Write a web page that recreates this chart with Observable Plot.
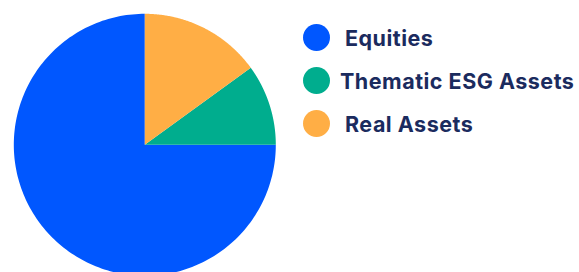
<!DOCTYPE html>
<html>
<head>
<meta charset="utf-8">
<script src="https://cdn.jsdelivr.net/npm/d3@7"></script>
<script src="https://cdn.jsdelivr.net/npm/@observablehq/plot@0.6"></script>
<style>
  html, body { margin: 0; padding: 0; background: #fff; }
  #wrap { position: relative; width: 579px; height: 272px; overflow: hidden; }
  #legend { position: absolute; left: 303px; top: 24px; font-family: Inter, "Open Sans", sans-serif; font-weight: 700; font-size: 21.5px; color: #1b2b5e; }
  .row { display: flex; align-items: center; height: 27px; margin-bottom: 16px; }
  .sw { width: 27px; height: 27px; border-radius: 50%; flex: none; }
  .lab { margin-left: 15px; white-space: nowrap; letter-spacing: 0.5px; }
  .row:nth-child(2) .lab { margin-left: 10px; }
</style>
</head>
<body>
<div id="wrap"><div id="legend"></div></div>
<script>
const categories = ["Equities", "Thematic ESG Assets", "Real Assets"];
const values = [75, 10, 15];
const colors = ["#0057ff", "#00ad8e", "#ffae45"];

const data = categories.map((name, i) => ({ name, value: values[i] }));
// slices laid out counter-clockwise from 12 o'clock
const pie = d3.pie().value(d => d.value).sort(null);
const arcs = pie(data);
const pts = [];
for (const a of arcs) {
  const n = 200;
  pts.push({ name: a.data.name, x: 0, y: 0 });
  for (let k = 0; k <= n; k++) {
    const t = a.startAngle + (a.endAngle - a.startAngle) * k / n;
    pts.push({ name: a.data.name, x: -Math.sin(t), y: Math.cos(t) });
  }
  pts.push({ name: a.data.name, x: 0, y: 0 });
}

const chart = Plot.plot({
  width: 579,
  height: 272,
  margin: 0,
  x: { domain: [-1, 1], range: [13.3, 275.3], axis: null },
  y: { domain: [-1, 1], range: [275.3, 13.3], axis: null },
  color: { domain: categories, range: colors },
  marks: [
    Plot.line(pts, { x: "x", y: "y", z: "name", fill: "name", stroke: null, curve: "linear" })
  ]
});
document.getElementById("wrap").prepend(chart);

const legend = d3.select("#legend");
categories.forEach((c, i) => {
  const row = legend.append("div").attr("class", "row");
  row.append("div").attr("class", "sw").style("background", colors[i]);
  row.append("div").attr("class", "lab").text(c);
});
</script>
</body>
</html>
